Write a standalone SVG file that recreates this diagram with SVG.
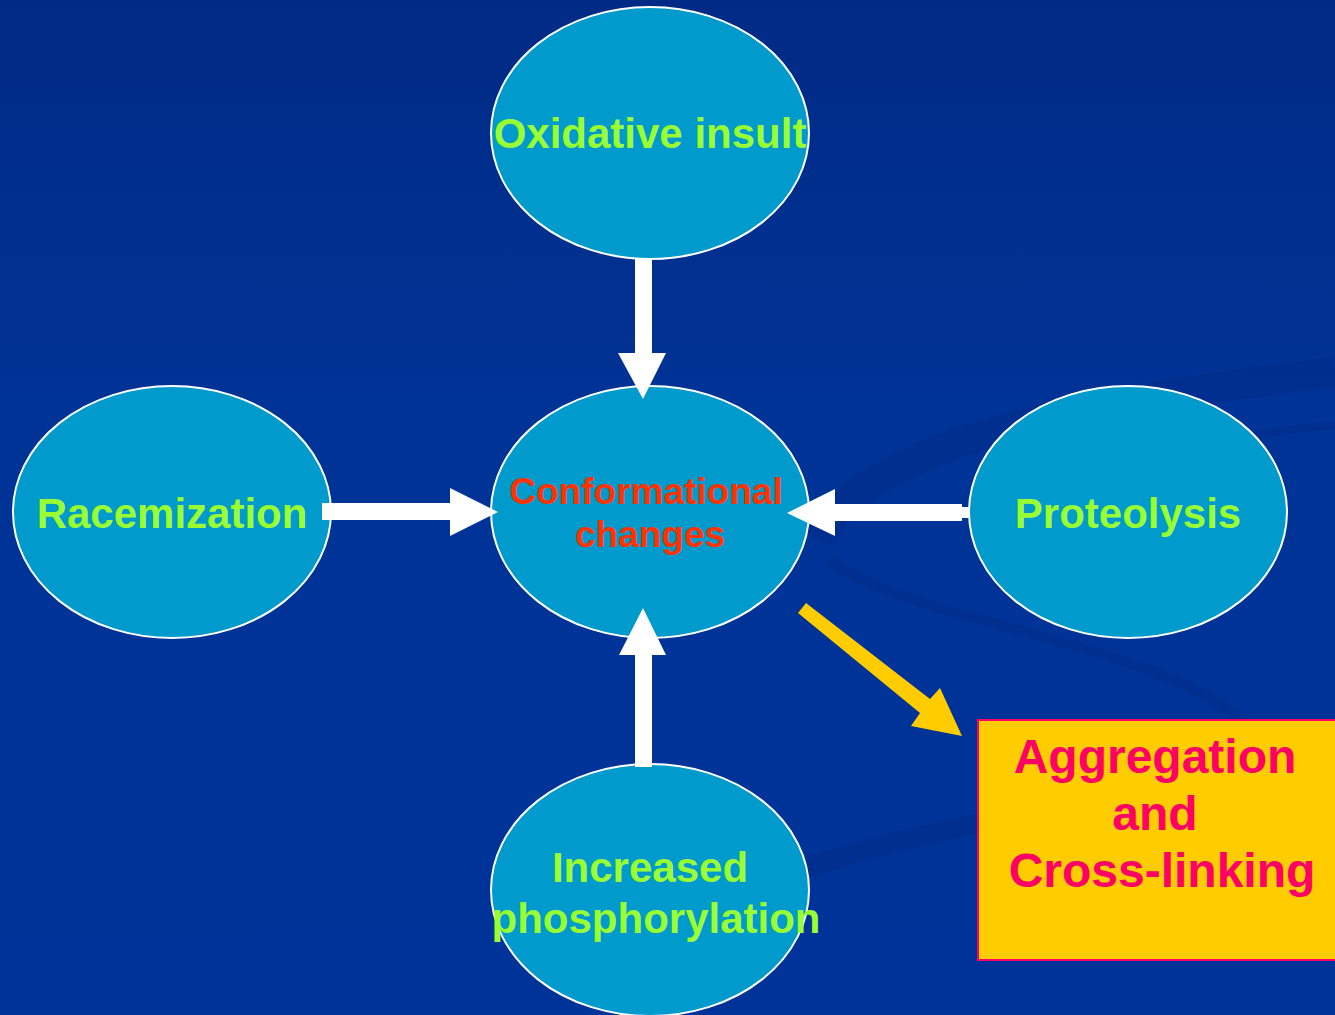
<svg xmlns="http://www.w3.org/2000/svg" width="1335" height="1015" viewBox="0 0 1335 1015">
<defs>
<linearGradient id="bg" x1="0" y1="0" x2="0" y2="1">
<stop offset="0" stop-color="#002a85"/>
<stop offset="0.4" stop-color="#003396"/>
<stop offset="1" stop-color="#003399"/>
</linearGradient>
<style>
.node{fill:#009acc;stroke:#ffffff;stroke-width:2}
.lbl{font-family:"Liberation Sans",Arial,sans-serif;font-weight:bold;font-size:42px;fill:#99ff33;text-anchor:middle}
.red{font-family:"Liberation Sans",Arial,sans-serif;font-weight:bold;font-size:37px;fill:#ff3300;text-anchor:middle}
.pink{font-family:"Liberation Sans",Arial,sans-serif;font-weight:bold;font-size:48px;fill:#ff0066;text-anchor:middle}
.wa{fill:#ffffff}
.swoosh{fill:none;stroke:#002b88;stroke-opacity:0.45}
</style>
</defs>
<rect width="1335" height="1015" fill="url(#bg)"/>
<g id="background-swooshes">
<path class="swoosh" stroke-width="30" d="M820,540 C860,440 1100,400 1335,372"/>
<path class="swoosh" stroke-width="10" d="M830,560 C900,620 1150,640 1240,720"/>
<path class="swoosh" stroke-width="20" d="M800,870 C950,820 1150,790 1335,770"/>
<path class="swoosh" stroke-width="8" d="M1100,480 C1200,440 1280,430 1335,425"/>
</g>
<g id="node-oxidative">
<ellipse class="node" cx="650" cy="133" rx="159" ry="126"/>
<text class="lbl" x="650" y="148">Oxidative insult</text>
</g>
<g id="node-racemization">
<ellipse class="node" cx="172" cy="512" rx="159" ry="126"/>
<text class="lbl" x="172" y="528">Racemization</text>
</g>
<g id="node-conformational">
<ellipse class="node" cx="650" cy="512" rx="159" ry="126"/>
<text class="red" x="646" y="504">Conformational</text>
<text class="red" x="650" y="547">changes</text>
</g>
<g id="node-proteolysis">
<ellipse class="node" cx="1128" cy="512" rx="159" ry="126"/>
<text class="lbl" x="1128" y="528">Proteolysis</text>
</g>
<g id="node-phosphorylation">
<ellipse class="node" cx="650" cy="890" rx="159" ry="126"/>
<text class="lbl" x="650" y="882">Increased</text>
<text class="lbl" x="656" y="933">phosphorylation</text>
</g>
<g id="node-aggregation">
<rect x="978" y="720" width="370" height="240" fill="#ffcc00" stroke="#ff0066" stroke-width="2"/>
<text class="pink" x="1155" y="773">Aggregation</text>
<text class="pink" x="1155" y="830">and</text>
<text class="pink" x="1162" y="887">Cross-linking</text>
</g>
<g id="connectors">
<polygon class="wa" points="635,258 652,258 652,353 666,353 643,399 618,353 635,353"/>
<polygon class="wa" points="322,503 450,503 450,488 498,512 450,536 450,520 322,520"/>
<polygon class="wa" points="969,507 962,507 962,504 835,504 835,489 787,513 835,536 835,521 962,521 962,518 969,518"/>
<polygon class="wa" points="635,767 652,767 652,655 666,655 643,608 619,655 635,655"/>
<polygon fill="#ffcc00" points="806,603 930,699 940,688 962,736 911,726 920,713 798,613"/>
</g>
</svg>
